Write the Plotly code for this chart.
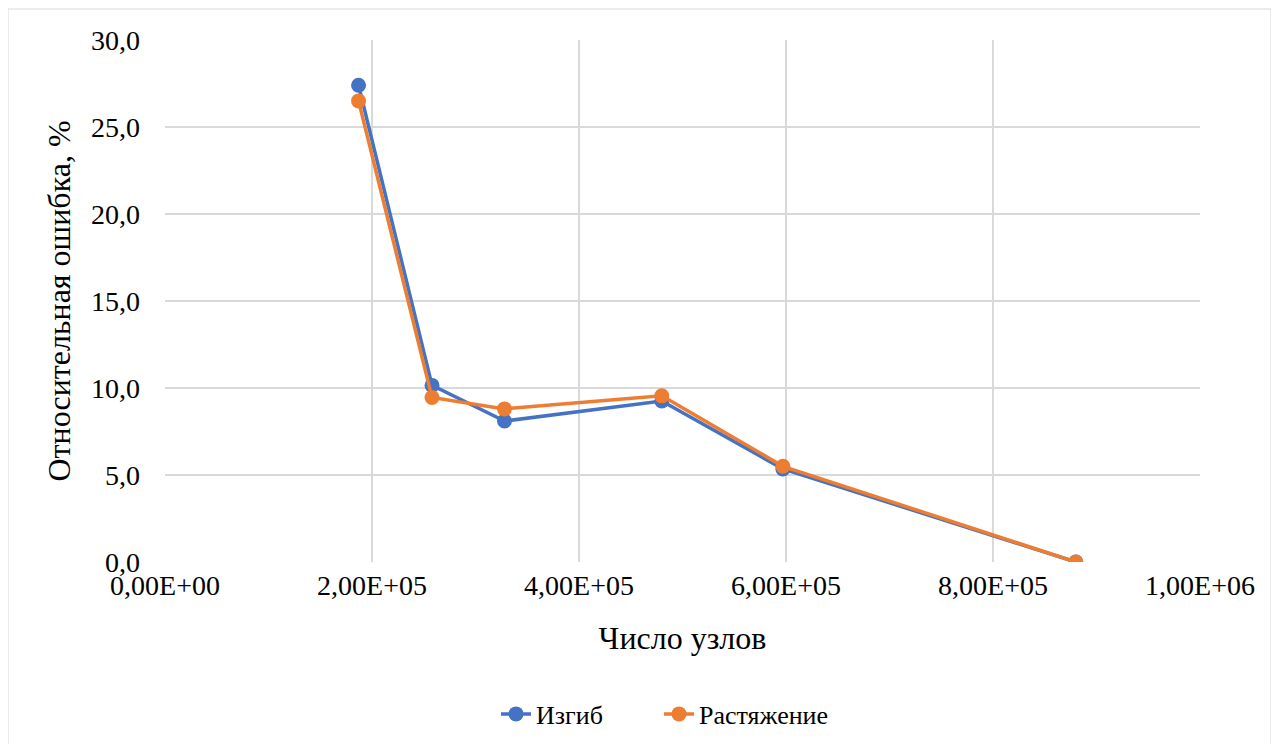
import plotly.graph_objects as go

nodes = [187000, 258000, 328000, 480000, 597000, 880000]
bend = [27.4, 10.15, 8.1, 9.25, 5.35, 0.0]
tension = [26.5, 9.45, 8.8, 9.55, 5.5, 0.0]

x_tickvals = [0, 200000, 400000, 600000, 800000, 1000000]
x_ticktext = ["0,00E+00", "2,00E+05", "4,00E+05", "6,00E+05", "8,00E+05", "1,00E+06"]
y_tickvals = [0, 5, 10, 15, 20, 25, 30]
y_ticktext = ["0,0", "5,0", "10,0", "15,0", "20,0", "25,0", "30,0"]

# page has an 8px body margin, so figure coords = page coords - 8
W, H = 1279, 744
OFF = 8
L, T = 165 - OFF, 40 - OFF
plot_right, plot_bottom = 1200 - OFF, 562 - OFF
R, B = W - plot_right, H - plot_bottom
pw, ph = W - L - R, H - T - B

font = "Liberation Serif"

def px_x(page_x):
    return (page_x - OFF - L) / pw

fig = go.Figure()
fig.add_trace(go.Scatter(x=nodes, y=bend, name="Изгиб", mode="lines+markers",
                         line=dict(color="#4472C4", width=3.5),
                         marker=dict(size=15, color="#4472C4"),
                         legend="legend", showlegend=True))
fig.add_trace(go.Scatter(x=nodes, y=tension, name="Растяжение", mode="lines+markers",
                         line=dict(color="#ED7D31", width=3.5),
                         marker=dict(size=15, color="#ED7D31"),
                         legend="legend2", showlegend=True))

leg_y = -(714 - 562) / ph
leg_common = dict(orientation="h", yanchor="middle", y=leg_y, xanchor="left",
                  font=dict(size=26, family=font), bgcolor="rgba(0,0,0,0)")

fig.update_layout(
    width=W, height=H,
    showlegend=True,
    margin=dict(l=L, r=R, t=T, b=B),
    paper_bgcolor="white", plot_bgcolor="white",
    font=dict(family=font, size=26, color="#000000"),
    xaxis=dict(range=[0, 1000000], tickvals=x_tickvals, ticktext=x_ticktext,
               showgrid=True, gridcolor="#d9d9d9", gridwidth=1.5, zeroline=False,
               showline=False, ticks="", ticklabelstandoff=4,
               title=dict(text="Число узлов", font=dict(size=32, family=font), standoff=26),
               tickfont=dict(size=28, family=font)),
    yaxis=dict(range=[0, 30], tickvals=y_tickvals, ticktext=y_ticktext,
               showgrid=True, gridcolor="#d9d9d9", gridwidth=1.5, zeroline=False,
               showline=False, ticks="", ticklabelstandoff=24,
               title=dict(text="Относительная ошибка, %", font=dict(size=32, family=font), standoff=10),
               tickfont=dict(size=28, family=font)),
    legend=dict(x=px_x(496), **leg_common),
    legend2=dict(x=px_x(659), **leg_common),
    shapes=[dict(type="rect", xref="paper", yref="paper",
                 x0=(0 - L) / pw, x1=(1263 - L) / pw,
                 y0=-(H - plot_bottom) / ph, y1=(plot_bottom - 1) / ph,
                 line=dict(color="#d9d9d9", width=1), layer="below")],
)

fig.write_html("out.html")
